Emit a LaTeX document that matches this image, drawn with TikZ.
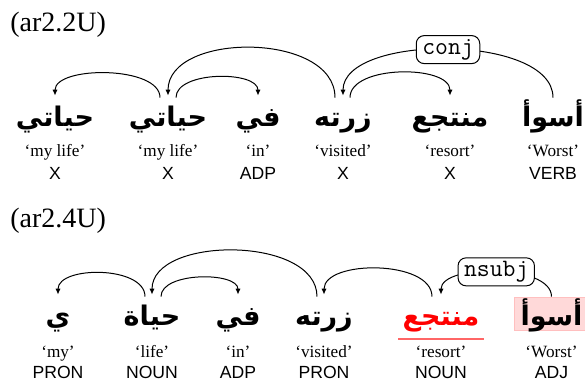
\documentclass[tikz,border=0pt]{standalone}
\usepackage{fontspec}
\setmainfont{Liberation Serif}
\setsansfont{Liberation Sans}
\setmonofont{Latin Modern Mono}
\newfontfamily\arabicfont[Script=Arabic]{DejaVu Sans}
\TeXXeTstate=1
\usepackage{tikz}
\usetikzlibrary{arrows.meta, positioning, calc}
\newcommand{\arword}[1]{\beginR #1\endR}
\tikzset {
    word/.style = {
        anchor = base,
        inner xsep = 2pt,
        inner ysep = 0pt,
        text height = 14.5pt,
        text depth = 2pt,
        font = {\arabicfont\bfseries\fontsize{13.5}{14}\selectfont} % Arabic word of the sentence
    },
    gloss/.style = {
        anchor = base,
        font = {\fontsize{8.6}{9}\selectfont}
    },
    tag/.style = {
        anchor = base,
        font = {\sffamily\fontsize{8.8}{9}\selectfont}
    },
    title/.style = {
        anchor = base west,
        inner xsep = 0pt,
        font = {\fontsize{14}{16}\selectfont}
    },
    deprel/.style = {
        draw,
        fill = white,
        rounded corners = 4pt,
        inner xsep = 3pt,
        inner ysep = 0pt,
        minimum height = 14pt,
        font = {\ttfamily\fontsize{12.5}{12.5}\selectfont}
    },
    highlight/.style = {
        fill = red!15,
        draw = red!25,
        inner xsep = 3pt
    },
    dep/.style = {
        -{Latex[length=3pt, width=2.6pt]},
        line width = 0.5pt,
        shorten > = 1pt
    },
    underline/.style = {
        draw = red!60,
        line width = 1pt
    }
}

\begin{document}
\begin{tikzpicture}[x=1pt, y=1pt]
    \useasboundingbox (0, 0) rectangle (292.5, 190.5);

    % First sentence : title, words, glosses, tags
    \node [title] (title1) at (5, 174.75) {(ar2.2U)};

    \node [word] at (27.5, 127)   (w1) {\arword{حياتي}};
    \node [word] at (84, 127)     (w2) {\arword{حياتي}};
    \node [word] at (129, 127)    (w3) {\arword{في}};
    \node [word] at (171.5, 127)  (w4) {\arword{زرته}};
    \node [word] at (225, 127)    (w5) {\arword{منتجع}};
    \node [word] at (276.5, 127)  (w6) {\arword{أسوأ}};

    \node [gloss] at ([yshift=-15pt]w1.base) (g1) {‘my life’};
    \node [gloss] at ([yshift=-15pt]w2.base) (g2) {‘my life’};
    \node [gloss] at ([yshift=-15pt]w3.base) (g3) {‘in’};
    \node [gloss] at ([yshift=-15pt]w4.base) (g4) {‘visited’};
    \node [gloss] at ([yshift=-15pt]w5.base) (g5) {‘resort’};
    \node [gloss] at ([yshift=-15pt]w6.base) (g6) {‘Worst’};

    \node [tag] at ([yshift=-26.5pt]w1.base) (p1) {X};
    \node [tag] at ([yshift=-26.5pt]w2.base) (p2) {X};
    \node [tag] at ([yshift=-26.5pt]w3.base) (p3) {ADP};
    \node [tag] at ([yshift=-26.5pt]w4.base) (p4) {X};
    \node [tag] at ([yshift=-26.5pt]w5.base) (p5) {X};
    \node [tag] at ([yshift=-26.5pt]w6.base) (p6) {VERB};

    \draw [dep] ([xshift=-4pt]w2.north) .. controls +(0, 16) and +(0, 16) .. (w1.north);
    \draw [dep] ([xshift=4pt]w2.north)  .. controls +(0, 13.5) and +(0, 13.5) .. (w3.north);
    \draw [dep] ([xshift=-4pt]w4.north) .. controls +(0, 33) and +(0, 33) .. (w2.north);
    \draw [dep] ([xshift=3.5pt]w4.north) .. controls +(0, 16.5) and +(0, 16.5) .. (w5.north);
    \draw [dep] (w6.north) .. controls +(0, 32) and +(0, 32) .. node [deprel] (conj) {conj} (w4.north);

    % Second sentence : same layout, with the marked words
    \node [title] (title2) at (5, 76.5) {(ar2.4U)};

    \node [word] at (29, 27.5)                   (b1) {\arword{ي}};
    \node [word] at (76, 27.5)                   (b2) {\arword{حياة}};
    \node [word] at (119, 27.5)                  (b3) {\arword{في}};
    \node [word] at (162, 27.5)                  (b4) {\arword{زرته}};
    \node [word, text=red] at (220.5, 27.5)      (b5) {\arword{منتجع}};
    \node [word, highlight] at (275.75, 27.5)    (b6) {\arword{أسوأ}};

    \node [gloss] at ([yshift=-15.5pt]b1.base) (h1) {‘my’};
    \node [gloss] at ([yshift=-15.5pt]b2.base) (h2) {‘life’};
    \node [gloss] at ([yshift=-15.5pt]b3.base) (h3) {‘in’};
    \node [gloss] at ([yshift=-15.5pt]b4.base) (h4) {‘visited’};
    \node [gloss] at ([yshift=-15.5pt]b5.base) (h5) {‘resort’};
    \node [gloss] at ([yshift=-15.5pt]b6.base) (h6) {‘Worst’};

    \node [tag] at ([yshift=-26pt]b1.base) (q1) {PRON};
    \node [tag] at ([yshift=-26pt]b2.base) (q2) {NOUN};
    \node [tag] at ([yshift=-26pt]b3.base) (q3) {ADP};
    \node [tag] at ([yshift=-26pt]b4.base) (q4) {PRON};
    \node [tag] at ([yshift=-26pt]b5.base) (q5) {NOUN};
    \node [tag] at ([yshift=-26pt]b6.base) (q6) {ADJ};

    \draw [underline] ([yshift=-6.5pt]b5.base west) -- ([yshift=-6.5pt]b5.base east);

    \draw [dep] ([xshift=-3.5pt]b2.north) .. controls +(0, 15.5) and +(0, 15.5) .. (b1.north);
    \draw [dep] ([xshift=4.5pt]b2.north)  .. controls +(0, 12.5) and +(0, 12.5) .. (b3.north);
    \draw [dep] ([xshift=-3.5pt]b4.north) .. controls +(0, 30.5) and +(0, 30.5) .. (b2.north);
    \draw [dep] ([xshift=-4.5pt]b5.north) .. controls +(0, 18.5) and +(0, 18.5) .. (b4.north);
    \draw [dep] (b6.north) .. controls +(0, 16.5) and +(0, 16.5) .. node [deprel] (nsubj) {nsubj} (b5.north);
\end{tikzpicture}
\end{document}
